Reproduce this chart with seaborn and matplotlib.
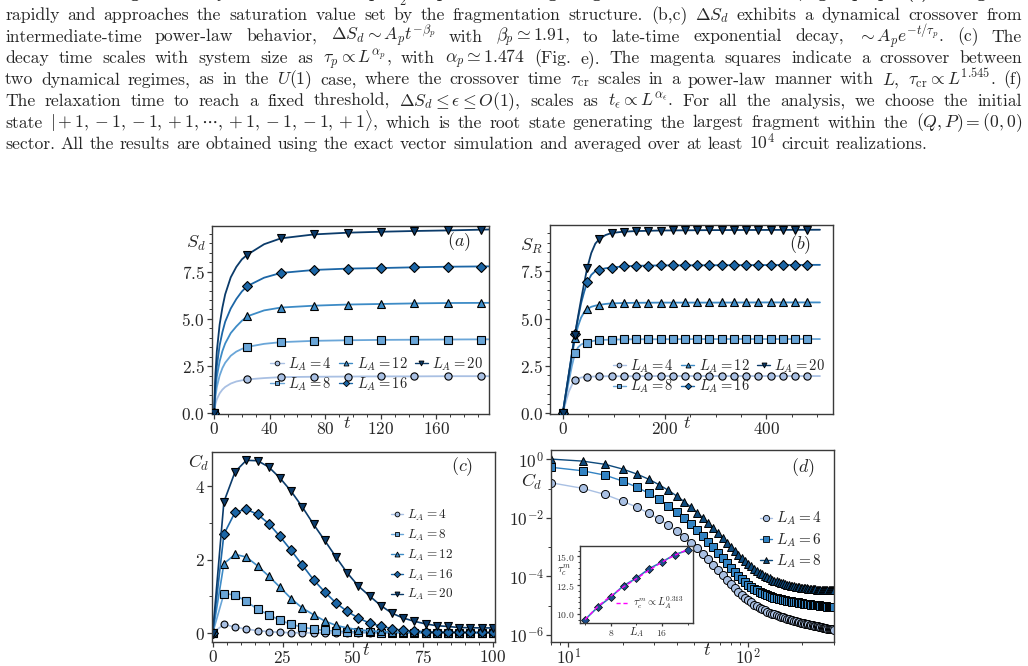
import numpy as np
import matplotlib
matplotlib.use("Agg")
import matplotlib.pyplot as plt
import seaborn as sns
from matplotlib.lines import Line2D
from matplotlib.ticker import MultipleLocator, FuncFormatter, FixedLocator, NullFormatter

sns.set_style("ticks")
plt.rcParams["font.family"] = ["cmr10", "DejaVu Serif"]
plt.rcParams["mathtext.fontset"] = "cm"
plt.rcParams["axes.unicode_minus"] = False
plt.rcParams["axes.formatter.use_mathtext"] = True

# ---------------- data ----------------
L_ab = [4, 8, 12, 16, 20]

# (a) S_d : markers every 24 steps, smooth curve
t_a_mark = [0, 24, 48, 72, 96, 120, 144, 168, 192]
Sd_mark = {
    4: [0, 1.80, 1.94, 1.95, 1.95, 1.96, 1.96, 1.97, 1.97],
    8: [0, 3.52, 3.77, 3.84, 3.87, 3.89, 3.90, 3.91, 3.91],
    12: [0, 5.14, 5.60, 5.70, 5.76, 5.79, 5.82, 5.83, 5.84],
    16: [0, 6.74, 7.43, 7.59, 7.66, 7.69, 7.73, 7.76, 7.77],
    20: [0, 8.40, 9.26, 9.47, 9.56, 9.61, 9.65, 9.68, 9.72],
}
t_a_line = [0, 1, 2, 4, 6, 8, 12, 16, 20, 24, 36, 48, 72, 96, 120, 144, 168, 198]
Sd_line = {
    4: [0, 0.49, 0.75, 1.06, 1.26, 1.40, 1.58, 1.69, 1.75, 1.80, 1.87, 1.92, 1.94, 1.95, 1.96, 1.96, 1.97, 1.97],
    8: [0, 0.90, 1.40, 2.00, 2.40, 2.68, 3.05, 3.27, 3.41, 3.52, 3.68, 3.77, 3.84, 3.87, 3.89, 3.90, 3.91, 3.92],
    12: [0, 1.25, 1.95, 2.75, 3.30, 3.70, 4.25, 4.60, 4.90, 5.14, 5.45, 5.60, 5.70, 5.76, 5.79, 5.82, 5.84, 5.85],
    16: [0, 1.60, 2.50, 3.60, 4.30, 4.85, 5.55, 6.05, 6.45, 6.74, 7.18, 7.43, 7.59, 7.66, 7.69, 7.73, 7.76, 7.78],
    20: [0, 2.10, 3.30, 4.70, 5.60, 6.30, 7.20, 7.75, 8.15, 8.40, 8.95, 9.26, 9.47, 9.56, 9.61, 9.65, 9.68, 9.73],
}

# (b) S_R
t_b_mark = list(range(0, 481, 24))
SR_mark = {
    4: [0, 1.76, 1.93, 1.95, 1.96, 1.96, 1.96, 1.96, 1.97, 1.97, 1.97, 1.97, 1.97, 1.97, 1.97, 1.97, 1.97, 1.97, 1.97, 1.97, 1.97],
    8: [0, 3.17, 3.73, 3.86, 3.89, 3.90, 3.91, 3.91, 3.91, 3.92, 3.92, 3.92, 3.92, 3.92, 3.92, 3.92, 3.92, 3.92, 3.92, 3.92, 3.92],
    12: [0, 3.96, 5.49, 5.72, 5.80, 5.82, 5.83, 5.84, 5.84, 5.84, 5.85, 5.85, 5.85, 5.85, 5.85, 5.85, 5.85, 5.85, 5.85, 5.85, 5.85],
    16: [0, 4.20, 6.90, 7.57, 7.69, 7.75, 7.78, 7.79, 7.80, 7.80, 7.81, 7.81, 7.82, 7.82, 7.82, 7.82, 7.82, 7.83, 7.83, 7.83, 7.83],
    20: [0, 4.15, 7.66, 9.19, 9.51, 9.58, 9.61, 9.63, 9.64, 9.65, 9.65, 9.66, 9.66, 9.67, 9.67, 9.67, 9.67, 9.68, 9.68, 9.68, 9.68],
}
t_b_line = [0, 6, 12, 18, 24, 30, 36, 42, 48, 56, 64, 72, 84, 96, 120, 144, 192, 288, 400, 505]
SR_line = {
    4: [0, 0.60, 1.15, 1.50, 1.76, 1.84, 1.89, 1.92, 1.93, 1.94, 1.95, 1.95, 1.96, 1.96, 1.96, 1.96, 1.97, 1.97, 1.97, 1.97],
    8: [0, 0.85, 1.70, 2.50, 3.17, 3.48, 3.63, 3.70, 3.73, 3.80, 3.84, 3.86, 3.88, 3.89, 3.90, 3.91, 3.91, 3.92, 3.92, 3.92],
    12: [0, 1.00, 2.00, 3.00, 3.96, 4.60, 5.05, 5.33, 5.49, 5.62, 5.68, 5.72, 5.77, 5.80, 5.82, 5.83, 5.84, 5.84, 5.85, 5.85],
    16: [0, 1.05, 2.10, 3.15, 4.20, 5.00, 5.80, 6.40, 6.90, 7.30, 7.50, 7.57, 7.65, 7.69, 7.75, 7.78, 7.80, 7.81, 7.82, 7.83],
    20: [0, 1.04, 2.08, 3.12, 4.15, 5.10, 6.00, 6.85, 7.66, 8.45, 8.95, 9.19, 9.40, 9.51, 9.58, 9.61, 9.64, 9.66, 9.67, 9.68],
}

# (c) C_d, linear
t_c = list(range(0, 101, 4))
Cd_c = {
    4: [0, 0.24, 0.16, 0.11, 0.065, 0.04, 0.02, 0.01, 0.008, 0.005, 0.004, 0.003, 0.002, 0.002, 0.001,
        0.001, 0.001, 0.001, 0.001, 0.001, 0.001, 0.001, 0.001, 0.001, 0.001, 0.001],
    8: [0, 1.07, 1.04, 0.86, 0.65, 0.50, 0.35, 0.24, 0.16, 0.11, 0.07, 0.05, 0.04, 0.03, 0.02,
        0.015, 0.01, 0.01, 0.008, 0.006, 0.005, 0.005, 0.004, 0.004, 0.003, 0.003],
    12: [0, 1.89, 2.14, 2.07, 1.83, 1.55, 1.25, 0.94, 0.68, 0.50, 0.33, 0.21, 0.14, 0.09, 0.06,
         0.045, 0.03, 0.025, 0.02, 0.015, 0.012, 0.01, 0.01, 0.01, 0.01, 0.01],
    16: [0, 2.69, 3.29, 3.37, 3.23, 2.98, 2.63, 2.25, 1.85, 1.45, 1.12, 0.82, 0.59, 0.41, 0.27,
         0.19, 0.12, 0.07, 0.055, 0.04, 0.03, 0.03, 0.025, 0.02, 0.02, 0.02],
    20: [0, 3.57, 4.39, 4.70, 4.69, 4.52, 4.22, 3.86, 3.43, 2.96, 2.52, 2.07, 1.64, 1.28, 1.01,
         0.75, 0.54, 0.41, 0.32, 0.25, 0.20, 0.18, 0.15, 0.145, 0.14, 0.14],
}

# (d) C_d, log-log; log10 values at t = 8, 12, ..., 300
L_d = [4, 6, 8]
logCd_d = {
    4: [-0.80, -0.99, -1.20, -1.43, -1.63, -1.84, -2.05, -2.25, -2.45, -2.65, -2.85, -3.04, -3.23, -3.42,
        -3.60, -3.78, -3.95, -4.11, -4.26, -4.40, -4.52, -4.63, -4.73, -4.81, -4.89, -4.96, -5.02, -5.07,
        -5.12, -5.16, -5.20, -5.24, -5.27, -5.30, -5.33, -5.35, -5.38, -5.40, -5.42, -5.44, -5.46, -5.48,
        -5.50, -5.52, -5.53, -5.55, -5.56, -5.58, -5.59, -5.60, -5.62, -5.63, -5.64, -5.65, -5.66, -5.67,
        -5.68, -5.69, -5.70, -5.71, -5.72, -5.73, -5.74, -5.75, -5.75, -5.76, -5.77, -5.78, -5.78, -5.79,
        -5.80, -5.80, -5.81, -5.82],
    6: [-0.27, -0.39, -0.54, -0.74, -0.95, -1.16, -1.37, -1.58, -1.79, -2.00, -2.21, -2.42, -2.62, -2.82,
        -3.01, -3.20, -3.38, -3.55, -3.71, -3.86, -3.98, -4.09, -4.19, -4.28, -4.36, -4.42, -4.48, -4.53,
        -4.57, -4.61, -4.64, -4.67, -4.70, -4.72, -4.74, -4.76, -4.78, -4.80, -4.81, -4.83, -4.84, -4.85,
        -4.86, -4.87, -4.88, -4.89, -4.90, -4.91, -4.92, -4.93, -4.93, -4.94, -4.95, -4.95, -4.96, -4.97,
        -4.97, -4.98, -4.98, -4.99, -4.99, -5.00, -5.00, -5.01, -5.01, -5.02, -5.02, -5.03, -5.03, -5.04,
        -5.04, -5.04, -5.05, -5.05],
    8: [0.01, -0.06, -0.17, -0.33, -0.50, -0.68, -0.87, -1.06, -1.25, -1.44, -1.63, -1.82, -2.00, -2.18,
        -2.36, -2.53, -2.70, -2.85, -3.00, -3.13, -3.26, -3.37, -3.48, -3.57, -3.66, -3.74, -3.81, -3.87,
        -3.93, -3.98, -4.03, -4.07, -4.11, -4.14, -4.17, -4.20, -4.22, -4.24, -4.26, -4.28, -4.30, -4.31,
        -4.33, -4.34, -4.35, -4.36, -4.37, -4.38, -4.39, -4.40, -4.40, -4.41, -4.42, -4.42, -4.43, -4.43,
        -4.44, -4.44, -4.45, -4.45, -4.45, -4.46, -4.46, -4.46, -4.47, -4.47, -4.47, -4.47, -4.48, -4.48,
        -4.48, -4.48, -4.48, -4.48],
}

# inset of (d)
L_in = [4, 6, 8, 10, 12, 14, 16, 18, 20]
tau_in = [9.50, 10.59, 11.45, 12.45, 13.10, 13.93, 14.51, 15.16, 15.52]
tau_fit = [9.50, 10.65, 11.55, 12.35, 13.05, 13.80, 14.50, 15.10, 15.60]

# ---------------- styles ----------------
col = {4: "#a9c0e3", 6: "#3283c3", 8: "#0e4a7c", 12: "#3d8bc6", 16: "#1c66a6", 20: "#0b3b6a"}
col_ab = dict(col)
col_ab[8] = "#6aa6d8"
mk = {4: "o", 6: "s", 8: "s", 12: "^", 16: "D", 20: "v"}
mk_d = {4: "o", 6: "s", 8: "^"}
ms = {4: 5.2, 6: 5.5, 8: 5.5, 12: 5.5, 16: 5.0, 20: 5.5}

W_PX, H_PX = 1028, 666
fig = plt.figure(figsize=(10.28, 6.66), dpi=100)


def px_axes(x0, y0, x1, y1):
    return fig.add_axes([x0 / W_PX, 1 - y1 / H_PX, (x1 - x0) / W_PX, (y1 - y0) / H_PX])


def style_ax(ax, lsize=12.5):
    for s in ax.spines.values():
        s.set_color("#3a3a3a")
        s.set_linewidth(1.0)
    ax.tick_params(which="both", direction="out", color="#3a3a3a", labelsize=lsize, pad=1.5)
    ax.tick_params(which="major", length=3.5, width=0.9)
    ax.tick_params(which="minor", length=2.0, width=0.7)


def hdl(L, cdict, mdict, scale):
    return Line2D([], [], color=cdict[L], lw=1.0, marker=mdict[L], markersize=ms[L] * scale,
                  markerfacecolor=cdict[L], markeredgecolor="k", markeredgewidth=0.6)


fmt1 = FuncFormatter(lambda v, p: f"${v:.1f}$")
fmt0 = FuncFormatter(lambda v, p: f"${v:.0f}$")
fmtlog = FuncFormatter(lambda v, p: f"$10^{{{int(round(np.log10(v)))}}}$")


def saturation_panel(ax, t_line, lines, t_mark, marks, xlim, xmaj, xmin, ylab, ylab_xy, tag, tag_xy, leg_xy):
    for L in L_ab:
        sns.lineplot(x=t_line, y=lines[L], ax=ax, color=col_ab[L], lw=1.3, legend=False, zorder=2)
        sns.lineplot(x=t_mark, y=marks[L], ax=ax, color=col_ab[L], linestyle="none", marker=mk[L],
                     markersize=ms[L], markeredgecolor="k", markeredgewidth=0.8, legend=False, zorder=3)
    ax.set_xlim(*xlim)
    ax.set_ylim(-0.03, 9.93)
    ax.xaxis.set_major_locator(MultipleLocator(xmaj))
    ax.xaxis.set_minor_locator(MultipleLocator(xmin))
    ax.yaxis.set_major_locator(MultipleLocator(2.5))
    ax.yaxis.set_minor_locator(MultipleLocator(0.5))
    ax.xaxis.set_major_formatter(fmt0)
    ax.yaxis.set_major_formatter(fmt1)
    style_ax(ax)
    ax.set_xlabel("$t$", fontsize=13, va="center")
    ax.xaxis.set_label_coords(0.486, -0.048)
    ax.set_ylabel(ylab, fontsize=13, rotation=0, va="center", ha="center")
    ax.yaxis.set_label_coords(*ylab_xy)
    ax.text(*tag_xy, tag, transform=ax.transAxes, fontsize=13, ha="center", va="center")
    ax.legend(handles=[hdl(L, col_ab, mk, 0.65) for L in L_ab], labels=[f"$L_A = {L}$" for L in L_ab],
              ncol=3, loc="center", bbox_to_anchor=leg_xy, frameon=False, fontsize=10.5,
              handlelength=0.9, handletextpad=0.3, columnspacing=0.5, labelspacing=0.2, borderpad=0)


# (a)
ax_a = px_axes(211.7, 225.7, 489.3, 414)
saturation_panel(ax_a, t_a_line, Sd_line, t_a_mark, Sd_mark, (-1.7, 198), 40, 10,
                 "$S_d$", (-0.056, 0.908), "$(a)$", (0.89, 0.915), (0.595, 0.212))

# (b)
ax_b = px_axes(550, 225, 832.7, 414)
saturation_panel(ax_b, t_b_line, SR_line, t_b_mark, SR_mark, (-25, 530), 200, 50,
                 "$S_R$", (-0.065, 0.889), "$(b)$", (0.884, 0.897), (0.598, 0.2))

# (c)
ax_c = px_axes(212, 451.7, 495, 641.7)
for L in L_ab:
    sns.lineplot(x=t_c, y=Cd_c[L], ax=ax_c, color=col_ab[L], lw=1.2, marker=mk[L], markersize=ms[L] * 0.95,
                 markeredgecolor="k", markeredgewidth=0.8, legend=False)
ax_c.set_xlim(-0.25, 100.8)
ax_c.set_ylim(-0.235, 4.935)
ax_c.xaxis.set_major_locator(MultipleLocator(25))
ax_c.xaxis.set_minor_locator(MultipleLocator(5))
ax_c.yaxis.set_major_locator(MultipleLocator(2))
ax_c.yaxis.set_minor_locator(MultipleLocator(1))
ax_c.xaxis.set_major_formatter(fmt0)
ax_c.yaxis.set_major_formatter(fmt0)
style_ax(ax_c)
ax_c.set_xlabel("$t$", fontsize=13, va="center")
ax_c.xaxis.set_label_coords(0.545, -0.044)
ax_c.set_ylabel("$C_d$", fontsize=13, rotation=0, va="center", ha="center")
ax_c.yaxis.set_label_coords(-0.047, 0.942)
ax_c.text(0.882, 0.92, "$(c)$", transform=ax_c.transAxes, fontsize=13, ha="center", va="center")
ax_c.legend(handles=[hdl(L, col_ab, mk, 0.65) for L in L_ab], labels=[f"$L_A = {L}$" for L in L_ab],
            loc="center", bbox_to_anchor=(0.742, 0.456), frameon=False, fontsize=9.5,
            handlelength=0.9, handletextpad=0.3, labelspacing=0.35, borderpad=0)

# (d)
ax_d = px_axes(551, 450, 834, 641.7)
for L in L_d:
    t_d = [8 + 4 * i for i in range(len(logCd_d[L]))]
    sns.lineplot(x=t_d, y=[10 ** v for v in logCd_d[L]], ax=ax_d, color=col[L], lw=1.0, marker=mk_d[L],
                 markersize=5.8, markeredgecolor="k", markeredgewidth=0.7, legend=False)
ax_d.set_xscale("log")
ax_d.set_yscale("log")
ax_d.set_xlim(8, 300)
ax_d.set_ylim(10 ** -6.23, 10 ** 0.32)
ax_d.xaxis.set_major_locator(FixedLocator([10, 100]))
ax_d.xaxis.set_major_formatter(fmtlog)
ax_d.xaxis.set_minor_formatter(NullFormatter())
ax_d.yaxis.set_major_locator(FixedLocator([1e0, 1e-2, 1e-4, 1e-6]))
ax_d.yaxis.set_minor_locator(FixedLocator([1e-1, 1e-3, 1e-5]))
ax_d.yaxis.set_major_formatter(fmtlog)
ax_d.yaxis.set_minor_formatter(NullFormatter())
style_ax(ax_d)
ax_d.tick_params(axis="x", which="both", pad=0.5)
ax_d.set_xlabel("$t$", fontsize=13, va="center")
ax_d.xaxis.set_label_coords(0.55, -0.043)
ax_d.set_ylabel("$C_d$", fontsize=13, rotation=0, va="center", ha="center")
ax_d.yaxis.set_label_coords(-0.068, 0.835)
ax_d.text(0.89, 0.906, "$(d)$", transform=ax_d.transAxes, fontsize=13, ha="center", va="center")
ax_d.legend(handles=[Line2D([], [], color=col[L], lw=1.0, marker=mk_d[L], markersize=4.5,
                            markerfacecolor=col[L], markeredgecolor="k", markeredgewidth=0.6) for L in L_d],
            labels=[f"$L_A = {L}$" for L in L_d], loc="center", bbox_to_anchor=(0.848, 0.53),
            frameon=False, fontsize=11, handlelength=0.8, handletextpad=0.3, labelspacing=0.25, borderpad=0)

# inset
ax_in = px_axes(580, 546, 692.7, 623)
ax_in.set_zorder(5)
ax_in.set_facecolor("white")
sns.lineplot(x=L_in, y=tau_in, ax=ax_in, color="#2a7ab8", lw=1.2, marker="D", markersize=3.8,
             markerfacecolor="#1d4f8c", markeredgecolor="k", markeredgewidth=0.5, legend=False)
ax_in.plot(L_in, tau_fit, color="#ff00ff", lw=1.0, ls=(0, (3, 2)), label=r"$\tau_c^m \propto L_A^{0.313}$")
ax_in.xaxis.set_major_locator(FixedLocator([8, 16]))
ax_in.xaxis.set_minor_locator(MultipleLocator(4))
ax_in.yaxis.set_major_locator(MultipleLocator(2.5))
ax_in.yaxis.set_minor_locator(MultipleLocator(0.5))
ax_in.xaxis.set_major_formatter(fmt0)
ax_in.yaxis.set_major_formatter(fmt1)
style_ax(ax_in, lsize=7)
ax_in.tick_params(which="both", labelcolor="#333333", pad=1)
ax_in.tick_params(which="major", length=2.5)
ax_in.tick_params(which="minor", length=1.5)
ax_in.set_xlabel("$L_A$", fontsize=8, va="center")
ax_in.xaxis.set_label_coords(0.503, -0.113)
ax_in.set_ylabel(r"$\tau_c^m$", fontsize=8, rotation=0, va="center", ha="center")
ax_in.yaxis.set_label_coords(-0.14, 0.69)
ax_in.legend(loc="center", bbox_to_anchor=(0.62, 0.26), frameon=False, fontsize=7.5,
             handlelength=1.3, handletextpad=0.4, borderpad=0)

# ---------------- caption text above the figure ----------------
caption = [
    (r"FIG. 9. Entanglement dynamics of the spin-$\frac{1}{2}$ dipole-conserving fragmented random circuit, group p. (a) $S_d$ grows",
     -1.5, True, "cmb10"),
    (r"rapidly and approaches the saturation value set by the fragmentation structure. (b,c) $\Delta S_d$ exhibits a dynamical crossover from",
     20, True, "cmr10"),
    (r"intermediate-time power-law behavior, $\Delta S_d \sim A_p t^{-\beta_p}$ with $\beta_p \simeq 1.91$, to late-time exponential decay, $\sim A_p e^{-t/\tau_p}$. (c) The",
     41.5, True, "cmr10"),
    (r"decay time scales with system size as $\tau_p \propto L^{\alpha_p}$, with $\alpha_p \simeq 1.474$ (Fig. e). The magenta squares indicate a crossover between",
     63, True, "cmr10"),
    (r"two dynamical regimes, as in the $U(1)$ case, where the crossover time $\tau_{\mathrm{cr}}$ scales in a power-law manner with $L$, $\tau_{\mathrm{cr}} \propto L^{1.545}$. (f)",
     84.5, True, "cmr10"),
    (r"The relaxation time to reach a fixed threshold, $\Delta S_d \leq \epsilon \leq O(1)$, scales as $t_\epsilon \propto L^{\alpha_\epsilon}$. For all the analysis, we choose the initial",
     106, True, "cmr10"),
    (r"state $|+1,-1,-1,+1,\cdots,+1,-1,-1,+1\rangle$, which is the root state generating the largest fragment within the $(Q,P)=(0,0)$",
     127.5, True, "cmr10"),
    (r"sector. All the results are obtained using the exact vector simulation and averaged over at least $10^4$ circuit realizations.",
     149, False, "cmr10"),
]


def split_words(s):
    words, cur, inmath = [], "", False
    for ch in s:
        if ch == "$":
            inmath = not inmath
        if ch == " " and not inmath:
            if cur:
                words.append(cur)
            cur = ""
        else:
            cur += ch
    if cur:
        words.append(cur)
    return words


renderer = fig.canvas.get_renderer()
left_px, right_px = 5, 1022
for line, ybase, justify, fam in caption:
    fs = 12.7
    words = split_words(line)
    while True:
        objs = [fig.text(0, 1 - ybase / H_PX, w, fontsize=fs, family=fam, va="baseline", ha="left")
                for w in words]
        widths = [o.get_window_extent(renderer).width for o in objs]
        space = fs * 100 / 72 * 0.2
        if sum(widths) + space * (len(words) - 1) <= right_px - left_px or fs < 9:
            break
        for o in objs:
            o.remove()
        fs -= 0.2
    if justify:
        gap = (right_px - left_px - sum(widths)) / (len(words) - 1)
    else:
        gap = fs * 100 / 72 * 0.33
    x = left_px
    for o, wd in zip(objs, widths):
        o.set_x(x / W_PX)
        x += wd + gap

fig.savefig("out.png", dpi=100)
